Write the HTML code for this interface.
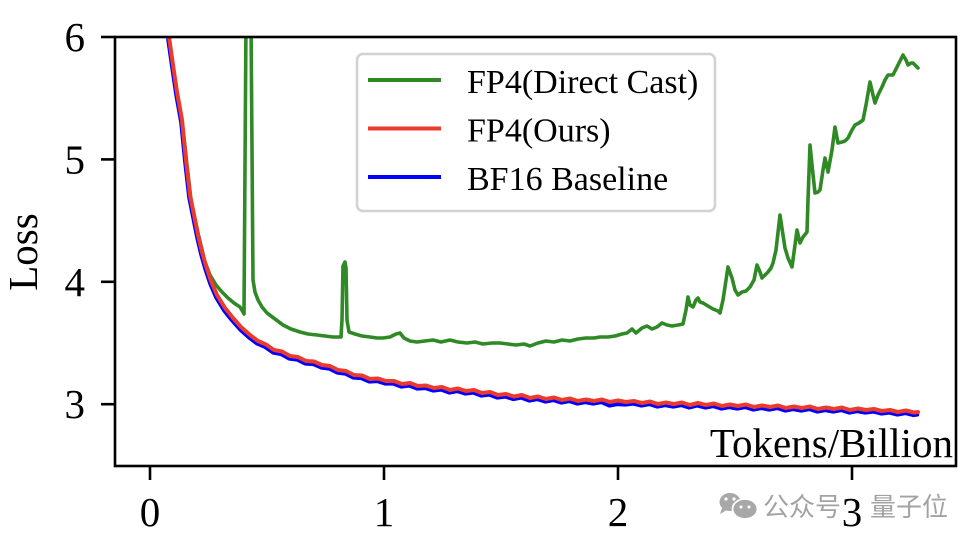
<!DOCTYPE html>
<html>
<head>
<meta charset="utf-8">
<style>
  html, body { margin: 0; padding: 0; background: #ffffff; }
  svg { display: block; }
  .serif { font-family: "Liberation Serif", "Times New Roman", serif; fill: #000; }
  .cjk { font-family: "Liberation Sans", "Noto Sans CJK SC", sans-serif; fill: #a3a3a3; }
</style>
</head>
<body>
<svg width="980" height="544" viewBox="0 0 980 544" xmlns="http://www.w3.org/2000/svg">
  <rect x="0" y="0" width="980" height="544" fill="#ffffff"/>
  <defs>
    <clipPath id="ax">
      <rect x="115" y="37" width="841" height="429"/>
    </clipPath>
  </defs>

  <g clip-path="url(#ax)" fill="none" stroke-linejoin="round" stroke-linecap="round">
    <!-- FP4 Direct Cast (green) -->
    <polyline stroke="#2f8a25" stroke-width="3.6" points="
      169,37 175,80 182,120 187,165 191,200 198,233 205,262 210,275 216,285 222,292 228,298 234,303 240,307 243,312 244,314
      246,20 251,20 253,280 255,292 258,300 262,307 267,313 275,319 283,325 291,329 300,332 308,334 317,335 325,336 333,337 341,337
      342,320 343,266 345,262 346,268 347,320 349,332 355,334 362,336 370,337 377,338 383,338 390,337 396,334 400,333 404,338 410,341
      417,342 425,341 433,340 441,342 450,340 458,342 467,343 475,342 483,344 492,343 500,343 508,344 516,345 524,344 530,346 538,343
      546,341 554,342 562,340 570,341 578,339 586,338 594,338 600,337 608,337 615,336 622,334 627,333 632,329 636,333 642,328 647,326
      652,329 657,327 662,323 667,325 672,326 678,325 683,324 686,310 688,297 690,305 693,307 696,300 698,298 700,302 703,303 708,306
      713,309 718,311 720,313 723,300 728,267 732,278 735,290 738,295 742,292 746,291 750,287 754,280 757,265 760,272 762,278 765,275
      768,272 771,268 773,263 776,250 780,215 783,235 785,248 788,258 792,267 795,245 797,230 800,243 803,237 807,232 808,200 810,145
      812,165 815,193 818,192 820,190 823,170 825,158 828,172 832,150 835,127 838,143 842,142 845,141 848,138 852,130 855,125 859,123
      863,120 866,105 870,82 873,95 875,103 878,95 882,87 885,80 888,75 893,75 898,65 903,55 906,60 908,65 911,63 913,63 916,66 918,68"/>

    <!-- BF16 Baseline (blue) -->
    <g transform="translate(-0.8,2.6)">
    <polyline stroke="#0000ff" stroke-width="4" points="
      169,37 173,65 177,92 182,120 186,160 190,195 194,215 198,235 202,252 206,266 211,281 217,295 225,308 233,318 241,327 250,335
      258,341 266,344.5 274,350 282,351.5 290,356 298,357 306,361 314,361.5 322,365 330,366 338,370 346,371 354,375 362,375.5 370,379
      378,378.5 386,381 394,381 402,384 410,383 418,386 426,385.5 434,388 442,387 450,390 458,388.5 466,391 474,390 482,393 490,392
      498,395 506,394 514,396.5 522,395 530,398 538,396.5 546,399 554,397.5 562,400 570,398.5 578,401 586,399.5 594,401 602,399.5
      610,403 618,401.5 626,402 634,401 642,403 650,401.5 658,404 666,402.5 674,404 682,402.5 690,405 698,403 706,405 714,403.5
      722,406 730,404.5 738,406 746,404.5 754,407 762,405.5 770,407 778,405.5 786,408 794,406.5 802,408 810,406.5 818,409 826,407.5
      834,409 842,407.5 850,410 858,408.5 866,410 874,409 882,411 890,410 898,412 906,410.5 914,412.5 918,412"/>
    </g>

    <!-- FP4 Ours (red) -->
    <polyline stroke="#ec3a2c" stroke-width="4" points="
      169,37 173,65 177,92 182,120 186,160 190,195 194,215 198,235 202,252 206,266 211,281 217,295 225,308 233,318 241,327 250,335
      258,341 266,344.5 274,350 282,351.5 290,356 298,357 306,361 314,361.5 322,365 330,366 338,370 346,371 354,375 362,375.5 370,379
      378,378.5 386,381 394,381 402,384 410,383 418,386 426,385.5 434,388 442,387 450,390 458,388.5 466,391 474,390 482,393 490,392
      498,395 506,394 514,396.5 522,395 530,398 538,396.5 546,399 554,397.5 562,400 570,398.5 578,401 586,399.5 594,401 602,399.5
      610,402 618,400.5 626,402 634,401 642,403 650,401.5 658,404 666,402.5 674,404 682,402.5 690,405 698,403 706,405 714,403.5
      722,406 730,404.5 738,406 746,404.5 754,407 762,405.5 770,407 778,405.5 786,408 794,406.5 802,408 810,406.5 818,409 826,407.5
      834,409 842,407.5 850,410 858,408.5 866,410 874,409 882,411 890,410 898,412 906,410.5 914,412.5 918,412"/>
  </g>

  <!-- Axes spines -->
  <rect x="115" y="37" width="841" height="429" fill="none" stroke="#000" stroke-width="2.6"/>

  <!-- Y ticks -->
  <g stroke="#000" stroke-width="2.6">
    <line x1="101" y1="37" x2="115" y2="37"/>
    <line x1="101" y1="159.4" x2="115" y2="159.4"/>
    <line x1="101" y1="281.8" x2="115" y2="281.8"/>
    <line x1="101" y1="404.2" x2="115" y2="404.2"/>
  </g>
  <!-- X ticks -->
  <g stroke="#000" stroke-width="2.6">
    <line x1="150" y1="466" x2="150" y2="480"/>
    <line x1="384" y1="466" x2="384" y2="480"/>
    <line x1="618" y1="466" x2="618" y2="480"/>
    <line x1="852" y1="466" x2="852" y2="480"/>
  </g>

  <!-- Y tick labels -->
  <g class="serif" font-size="41" text-anchor="end">
    <text x="85" y="51">6</text>
    <text x="85" y="173.4">5</text>
    <text x="85" y="295.8">4</text>
    <text x="85" y="418.2">3</text>
  </g>

  <!-- Y axis label -->
  <text class="serif" font-size="41" text-anchor="middle" transform="translate(37,252) rotate(-90)">Loss</text>

  <!-- X axis label inside plot -->
  <text class="serif" font-size="41" text-anchor="end" x="953" y="457">Tokens/Billion</text>

  <!-- Legend -->
  <rect x="357" y="54" width="358" height="157" rx="6" ry="6" fill="#ffffff" stroke="#d2d2d2" stroke-width="2.6"/>
  <g stroke-width="4">
    <line x1="368" y1="80" x2="441" y2="80" stroke="#2f8a25"/>
    <line x1="368" y1="128.5" x2="441" y2="128.5" stroke="#ec3a2c"/>
    <line x1="368" y1="177" x2="441" y2="177" stroke="#0000ff"/>
  </g>
  <g class="serif" font-size="34">
    <text x="467" y="93">FP4(Direct Cast)</text>
    <text x="467" y="141.5">FP4(Ours)</text>
    <text x="467" y="190">BF16 Baseline</text>
  </g>

  <!-- Watermark -->
  <g>
    <ellipse cx="730" cy="502" rx="10.5" ry="9" fill="#a8a8a8"/>
    <ellipse cx="745" cy="509" rx="12.5" ry="10" fill="#a8a8a8" stroke="#ffffff" stroke-width="1.8"/>
    <circle cx="726" cy="499" r="1.6" fill="#fff"/>
    <circle cx="734" cy="499" r="1.6" fill="#fff"/>
    <circle cx="741" cy="507" r="1.5" fill="#fff"/>
    <circle cx="749" cy="507" r="1.5" fill="#fff"/>
    <polygon points="722,508 720,514 727,510" fill="#a8a8a8"/>
  </g>
  <text class="cjk" font-size="26" x="763" y="516">公众号</text>
  <text class="cjk" font-size="26" x="870" y="516">量子位</text>

  <!-- X tick labels -->
  <g class="serif" font-size="41" text-anchor="middle">
    <text x="150" y="526">0</text>
    <text x="384" y="526">1</text>
    <text x="618" y="526">2</text>
    <text x="852" y="526">3</text>
  </g>
</svg>
</body>
</html>
